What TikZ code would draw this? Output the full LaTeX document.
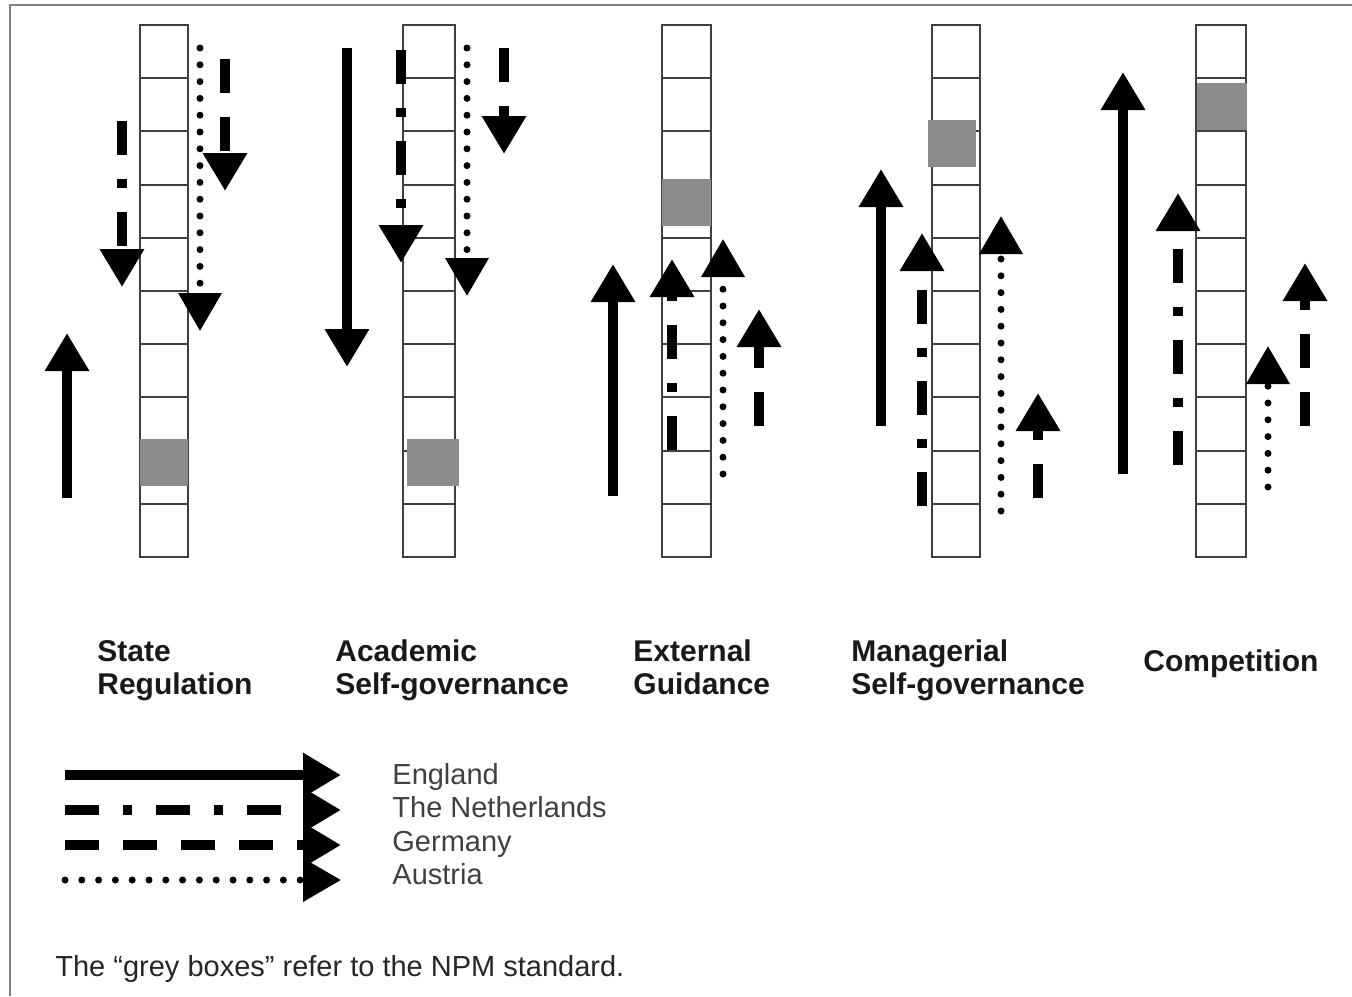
\documentclass[tikz,border=0pt]{standalone}
\usepackage{fontspec}
\setmainfont{Liberation Sans}
\usetikzlibrary{arrows.meta}

\begin{document}
\begin{tikzpicture}[x=0.5pt,y=-0.5pt,
    rung/.style={draw=black!75,line width=1pt},
    npm/.style={fill=black!45},
    trend/.style={line width=5pt,-{Triangle[width=21pt,length=19pt]}},
    england/.style={trend},
    netherlands/.style={trend,dash pattern=on 17pt off 12pt on 4.5pt off 12pt},
    germany/.style={trend,dash pattern=on 17pt off 12pt},
    austria/.style={trend,line width=3.5pt,line cap=round,dash pattern=on 0pt off 8.4pt},
    model/.style={font=\fontsize{15pt}{16.5pt}\selectfont\bfseries,text=black!90,align=left,anchor=base west,inner sep=0pt},
    country/.style={font=\fontsize{14.5pt}{16pt}\selectfont,text=black!75,anchor=base west,inner sep=0pt}]
  \useasboundingbox (0,0) rectangle (1352,996);

  % ladders with the grey NPM box
  \foreach \lx/\lw/\gx/\gy in {140/48/140/439,403/52/407/439,662/49/662/179,932/48/928/120,1196/50/1197/83} {
    \draw[rung] (\lx,25) rectangle ++(\lw,532);
    \foreach \k in {1,...,9}
      \draw[rung] (\lx,{25+53.2*\k}) -- ++(\lw,0);
    \fill[npm] (\gx,\gy) rectangle ++(\lw,47);
  }

  % trends per country
  \foreach \s/\ax/\ya/\yb in {
      england/67/498/333, netherlands/122/121/287, germany/225/59/191, austria/200/48/331,
      england/347/48/367, netherlands/401/50/263, germany/504/48/154, austria/467/48/296,
      england/613/496/264, netherlands/672/450/259, austria/723/474/239, germany/759/426/309,
      england/881/426/169, netherlands/922/506/233, austria/1001/511/216, germany/1038/498/393,
      england/1123/474/72, netherlands/1178/465/193, austria/1268/487/346, germany/1305/426/263}
    \draw[\s] (\ax,\ya) -- (\ax,\yb);

  \node[model] (state) at (97,694) {State\\Regulation};
  \node[model] (academic) at (335,694) {Academic\\Self-governance};
  \node[model] (external) at (633,694) {External\\Guidance};
  \node[model] (managerial) at (851,694) {Managerial\\Self-governance};
  \node[model] (competition) at (1143,671) {Competition};

  % legend
  \foreach \s/\y/\b/\txt in {england/775/784/England,netherlands/810/817/The Netherlands,
      germany/845/851/Germany,austria/880/884/Austria} {
    \draw[\s] (65,\y) -- (341,\y);
    \node[country] (leg-\s) at (392,\b) {\txt};
  }

  \node[country,text=black!85] (note) at (55,976) {The “grey boxes” refer to the NPM standard.};

  \draw[black!50,line width=1pt] (10,996) -- (10,5) -- (1352,5);
\end{tikzpicture}
\end{document}
